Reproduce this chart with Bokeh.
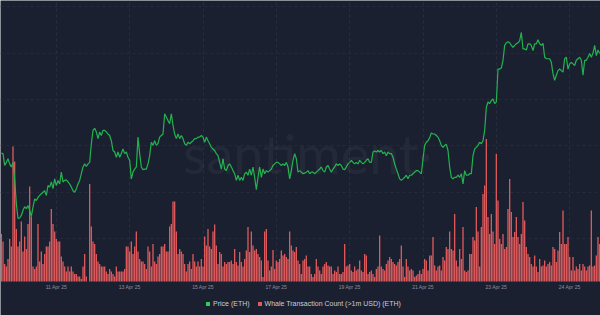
from bokeh.plotting import figure
from bokeh.models import Range1d, FixedTicker, Legend, LegendItem, Label, Grid, ColumnDataSource
from bokeh.core.properties import value
from bokeh.embed import file_html
from bokeh.resources import INLINE

# ---------------- data (hourly buckets) ----------------
tick_labels = ["11 Apr 25", "13 Apr 25", "15 Apr 25", "17 Apr 25",
               "19 Apr 25", "21 Apr 25", "23 Apr 25", "24 Apr 25"]
tick_hours = [33, 77, 121, 165, 209, 253, 297, 341]

price_eth = [
    1596, 1595, 1572, 1578, 1585, 1575, 1569, 1578, 1546, 1498,
    1469, 1470, 1475, 1485, 1492, 1488, 1494, 1485, 1473, 1491,
    1507, 1504, 1510, 1514, 1517, 1520, 1523, 1514, 1533, 1530,
    1540, 1527, 1546, 1533, 1543, 1536, 1559, 1540, 1543, 1544,
    1540, 1536, 1530, 1523, 1520, 1527, 1536, 1543, 1556, 1569,
    1575, 1570, 1575, 1578, 1614, 1640, 1644, 1637, 1624, 1637,
    1630, 1640, 1640, 1637, 1633, 1630, 1620, 1601, 1598, 1588,
    1598, 1588, 1595, 1604, 1595, 1598, 1588, 1582, 1546, 1559,
    1565, 1569, 1627, 1595, 1569, 1564, 1565, 1565, 1575, 1591,
    1617, 1611, 1620, 1611, 1615, 1627, 1630, 1633, 1672, 1666,
    1659, 1653, 1672, 1650, 1633, 1624, 1633, 1624, 1630, 1624,
    1614, 1611, 1617, 1614, 1617, 1620, 1624, 1624, 1627, 1627,
    1630, 1627, 1617, 1627, 1620, 1614, 1607, 1604, 1601, 1595,
    1591, 1578, 1565, 1585, 1565, 1562, 1572, 1575, 1569, 1562,
    1556, 1543, 1553, 1543, 1549, 1543, 1556, 1559, 1553, 1565,
    1553, 1569, 1549, 1525, 1549, 1569, 1549, 1565, 1556, 1562,
    1559, 1562, 1565, 1572, 1575, 1578, 1578, 1575, 1572, 1575,
    1572, 1578, 1569, 1546, 1562, 1582, 1595, 1585, 1559, 1562,
    1559, 1556, 1557, 1559, 1562, 1556, 1559, 1559, 1556, 1559,
    1562, 1565, 1569, 1562, 1559, 1569, 1572, 1565, 1559, 1565,
    1569, 1575, 1572, 1575, 1572, 1565, 1564, 1569, 1575, 1578,
    1582, 1578, 1575, 1578, 1575, 1582, 1578, 1575, 1578, 1582,
    1585, 1578, 1578, 1598, 1600, 1598, 1601, 1598, 1601, 1595,
    1598, 1591, 1598, 1595, 1595, 1588, 1575, 1565, 1556, 1546,
    1543, 1546, 1549, 1553, 1546, 1553, 1553, 1556, 1559, 1562,
    1562, 1559, 1556, 1585, 1611, 1617, 1620, 1626, 1635, 1633,
    1633, 1630, 1627, 1620, 1611, 1607, 1611, 1613, 1601, 1569,
    1549, 1546, 1549, 1549, 1553, 1549, 1556, 1536, 1562, 1553,
    1553, 1556, 1556, 1591, 1604, 1607, 1611, 1617, 1614, 1620,
    1640, 1685, 1695, 1692, 1698, 1701, 1692, 1695, 1759, 1759,
    1761, 1776, 1805, 1810, 1812, 1810, 1805, 1801, 1805, 1808,
    1810, 1814, 1830, 1798, 1798, 1796, 1808, 1808, 1805, 1795,
    1808, 1808, 1816, 1808, 1805, 1809, 1782, 1779, 1779, 1779,
    1772, 1750, 1737, 1747, 1756, 1759, 1756, 1753, 1779, 1782,
    1759, 1769, 1772, 1769, 1766, 1776, 1779, 1782, 1776, 1747,
    1776, 1776, 1782, 1789, 1782, 1790, 1805, 1785, 1796, 1789,
]

whale_count = [
    9.5, 8, 3.5, 3, 4.5, 8.5, 7, 27, 24, 10.5,
    7, 8, 12, 6, 9, 6.5, 11.5, 19, 13, 3,
    2.5, 3, 11.5, 4, 6, 3.5, 5.5, 7, 7, 8,
    14.5, 11.5, 10, 8.5, 8, 8, 5, 4, 3, 2,
    3, 2, 3, 2, 1.5, 1.5, 1, 1, 0.5, 3,
    5.5, 1, 0, 19.5, 11, 8, 7.5, 5.5, 4, 3.5,
    3, 3, 3, 2, 1.5, 2.5, 2, 1.5, 1, 3,
    2, 2, 2, 2, 2.5, 7, 7, 6, 8, 5.5,
    7, 10, 6, 4.5, 4, 4, 3.5, 2.5, 7, 6,
    3, 7.5, 4, 3.5, 5, 5.5, 7, 7, 7.5, 6,
    6, 11, 11.5, 16, 16, 10, 5.5, 6.5, 6, 5.5,
    3.5, 2, 3.5, 4, 2.5, 5.5, 4, 3, 4, 3,
    4.5, 3, 9, 7.2, 10.5, 7, 6.5, 10, 11.4, 7.2,
    3.5, 5.9, 5.5, 3, 3.9, 3.5, 3.9, 3.9, 4.2, 3.5,
    6.5, 3.9, 3.2, 5.9, 3.9, 3, 4.5, 6.2, 10.9, 5.9,
    10, 7.2, 6.2, 6.5, 5.5, 4.9, 4.2, 0.9, 10, 10.5,
    4.2, 2.2, 3, 6.3, 2.5, 4.2, 3.9, 4.5, 6.2, 5.2,
    5.5, 4.9, 4.5, 10, 7.2, 6.2, 5.9, 6.9, 4.2, 3.5,
    1.5, 4.2, 4.5, 5.2, 3, 3, 1.5, 0.9, 1.5, 4.5,
    3, 2.2, 1.5, 3, 3.5, 3.9, 3.2, 3, 3, 1.5,
    2.2, 1.9, 3, 1.5, 1.5, 1.9, 7.5, 3, 3.2, 3.5,
    2.2, 1.9, 3, 2.2, 2.5, 4.2, 2.2, 1.9, 5.5, 5.2,
    1.5, 1.9, 2.2, 1.5, 0.9, 2.5, 3, 9.2, 3, 2.5,
    2.2, 3.5, 4.2, 4.9, 4.5, 3.9, 3.5, 3.2, 3.9, 4.5,
    7.2, 3, 0.9, 4.5, 3, 2.2, 2.5, 2.2, 0.9, 1.2,
    1.5, 2.2, 1.5, 2.5, 4.5, 4.2, 2.2, 5.2, 5.2, 8.9,
    3.2, 2.2, 3, 3.2, 2.2, 4.9, 4.2, 6.9, 6.5, 10,
    6.5, 6.2, 13.5, 4.2, 3, 6.5, 4.5, 10.9, 2.2, 1.9,
    2.2, 5.5, 5.5, 8.9, 8.2, 14.9, 10, 3, 10.9, 17.5,
    19.2, 28.5, 12.9, 9.5, 13.5, 10, 7.5, 25.5, 16.2, 8.5,
    7.5, 9.5, 6.5, 6.9, 14.5, 20.5, 13.9, 8.9, 9.9, 12.9,
    8.9, 7.5, 9.5, 15.9, 12.2, 6.9, 5.5, 4.9, 3.5, 3,
    5.2, 3, 1.9, 4.5, 3, 3.2, 4.2, 3, 3.5, 3.9,
    3.2, 6.9, 6.5, 3.9, 6.2, 9.9, 7.5, 14.2, 7.5, 7.5,
    8.9, 4.9, 2.2, 4.9, 2.2, 3, 2.5, 3.5, 2.2, 3.5,
    3, 2.2, 3, 3.2, 14.2, 3, 3.2, 5.2, 8.9, 7.5,
]

hours = list(range(len(price_eth)))
price_grid = [1430, 1520, 1610, 1700, 1790, 1880]

# ---------------- styling ----------------
W, H = 600, 315
BG = "#1b2030"
GREEN = "#22b34f"
GREEN_KEY = "#2fcf55"
RED = "#e05a5c"
PLOT_BOTTOM = 281          # pixel row where the bars stand
PRICE_PER_PX = 1.94
PRICE_TOP = 1892
COUNT_PER_PX = 0.2

p = figure(width=W, height=H,
           x_range=Range1d(-0.5, len(hours) - 0.5),
           y_range=Range1d(PRICE_TOP - PRICE_PER_PX * H, PRICE_TOP),
           x_axis_location=None, y_axis_location=None,
           output_backend="svg", toolbar_location=None,
           background_fill_color=BG, border_fill_color=BG,
           min_border_left=0, min_border_right=0, min_border_top=0, min_border_bottom=0,
           outline_line_color=None)
p.extra_y_ranges = {
    "whale": Range1d(-COUNT_PER_PX * (H - PLOT_BOTTOM), COUNT_PER_PX * PLOT_BOTTOM),
    "px": Range1d(H, 0),
}

# grids (dashed, faint), limited to the plotting band
grid_bottom = PRICE_TOP - PRICE_PER_PX * PLOT_BOTTOM
p.xgrid.ticker = FixedTicker(ticks=tick_hours)
p.ygrid.ticker = FixedTicker(ticks=price_grid)
p.xgrid.grid_line_color = "#282e40"
p.ygrid.grid_line_color = "#252a3b"
p.xgrid.grid_line_dash = "3 3"
p.ygrid.grid_line_dash = "3 3"
p.xgrid.grid_line_width = 1
p.ygrid.grid_line_width = 1
if "cross_bounds" in Grid.properties():
    p.xgrid.cross_bounds = (grid_bottom, PRICE_TOP)

# watermark
wm = Label(x=109, y=1595, text="santiment\u00b7", text_font="Lato",
           text_font_size="54px", text_color="#ffffff", text_alpha=0.045,
           text_baseline="alphabetic")
p.add_layout(wm)

src = ColumnDataSource(dict(hour=hours, price=price_eth, whale=whale_count,
                            base=[0] * len(hours)))

bars = p.vbar(x="hour", top="whale", width=0.78, source=src, y_range_name="whale",
              fill_color=RED, line_color=None)
# zero-height companion used only as the square legend key of the price series
price_key = p.vbar(x="hour", top="base", bottom="base", width=0.78, source=src,
                   y_range_name="whale", fill_color=GREEN_KEY, line_color=None)
line = p.line(x="hour", y="price", source=src, line_color=GREEN, line_width=1.2)

# x tick labels (drawn as text under the plotting band)
tick_src = ColumnDataSource(dict(x=tick_hours, y=[PLOT_BOTTOM + 5] * len(tick_hours), t=tick_labels))
p.text(x="x", y="y", text="t", source=tick_src, y_range_name="px",
       text_font=value("Liberation Sans"), text_font_size="5px", text_color="#8b90a0",
       text_align="center", text_baseline="middle")

legend = Legend(items=[LegendItem(label="Price (ETH)", renderers=[price_key]),
                       LegendItem(label="Whale Transaction Count (>1m USD) (ETH)", renderers=[bars])],
                orientation="horizontal", location=(201, 4),
                background_fill_alpha=0, border_line_alpha=0,
                label_text_color="#c9ccd4", label_text_font="Liberation Sans",
                label_text_font_size="7px", glyph_width=5, glyph_height=5,
                label_standoff=3, spacing=7, padding=4, margin=0, label_height=8)
p.add_layout(legend)

open("out.html", "w").write(file_html(p, INLINE))
